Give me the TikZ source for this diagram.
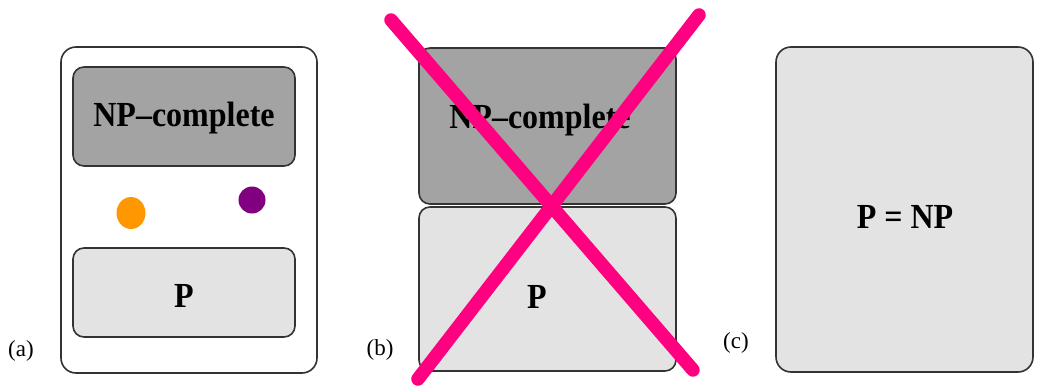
\documentclass[tikz,border=0pt]{standalone}
\usepackage{fontspec}
\usepackage{graphicx}
\setmainfont{Liberation Serif}
\definecolor{dotorange}{RGB}{255,152,0}
\definecolor{dotpurple}{RGB}{128,0,128}
\definecolor{strikepink}{RGB}{255,0,128}
\newcommand{\classlabel}[1]{\scalebox{1}[1.1]{#1}}
\begin{document}
\begin{tikzpicture}[x=1pt,y=-1pt,
  setbox/.style={draw=black!80,line width=1.6pt,rounded corners=11pt},
  hardbox/.style={setbox,fill=black!36},
  easybox/.style={setbox,fill=black!11},
  classtext/.style={font=\fontsize{32}{36}\selectfont\bfseries,inner sep=0pt},
  caption/.style={font=\fontsize{23}{26}\selectfont,inner sep=0pt},
  strike/.style={line width=13.5pt,line cap=round,draw=strikepink}]
\useasboundingbox (0,0) rectangle (1037,391);

% (a) P and NP-complete as separate regions inside NP
\draw[setbox,fill=white,rounded corners=15pt] (61,47) rectangle (317,373);
\draw[hardbox] (73,67) rectangle (295,166);
\node[classtext] (a-np) at (184,118) {\classlabel{NP--complete}};
\draw[easybox] (73,248) rectangle (295,337);
\node[classtext] (a-p) at (184,296) {\classlabel{P}};
\fill[dotorange] (131,213) ellipse [x radius=14.5,y radius=16];
\fill[dotpurple] (252,200) circle [radius=13.5];
\node[caption] (la) at (21,351) {(a)};

% (b) NP-complete directly adjoining P, struck out
\draw[hardbox] (419,48) rectangle (676,204);
\node[classtext] (b-np) at (540,120) {\classlabel{NP--complete}};
\draw[easybox] (419,207) rectangle (676,371);
\node[classtext] (b-p) at (537,297) {\classlabel{P}};
\node[caption] (lb) at (380,350) {(b)};
\coordinate (x1) at (391,20);
\coordinate (x2) at (693,370);
\coordinate (x3) at (699,15);
\coordinate (x4) at (418,379);
\draw[strike] (x1) -- (x2);
\draw[strike] (x3) -- (x4);

% (c) the collapsed case
\draw[easybox,rounded corners=15pt] (776,47) rectangle (1033,372);
\node[classtext] (c-eq) at (905,217) {\classlabel{P = NP}};
\node[caption] (lc) at (736,343) {(c)};
\end{tikzpicture}
\end{document}
